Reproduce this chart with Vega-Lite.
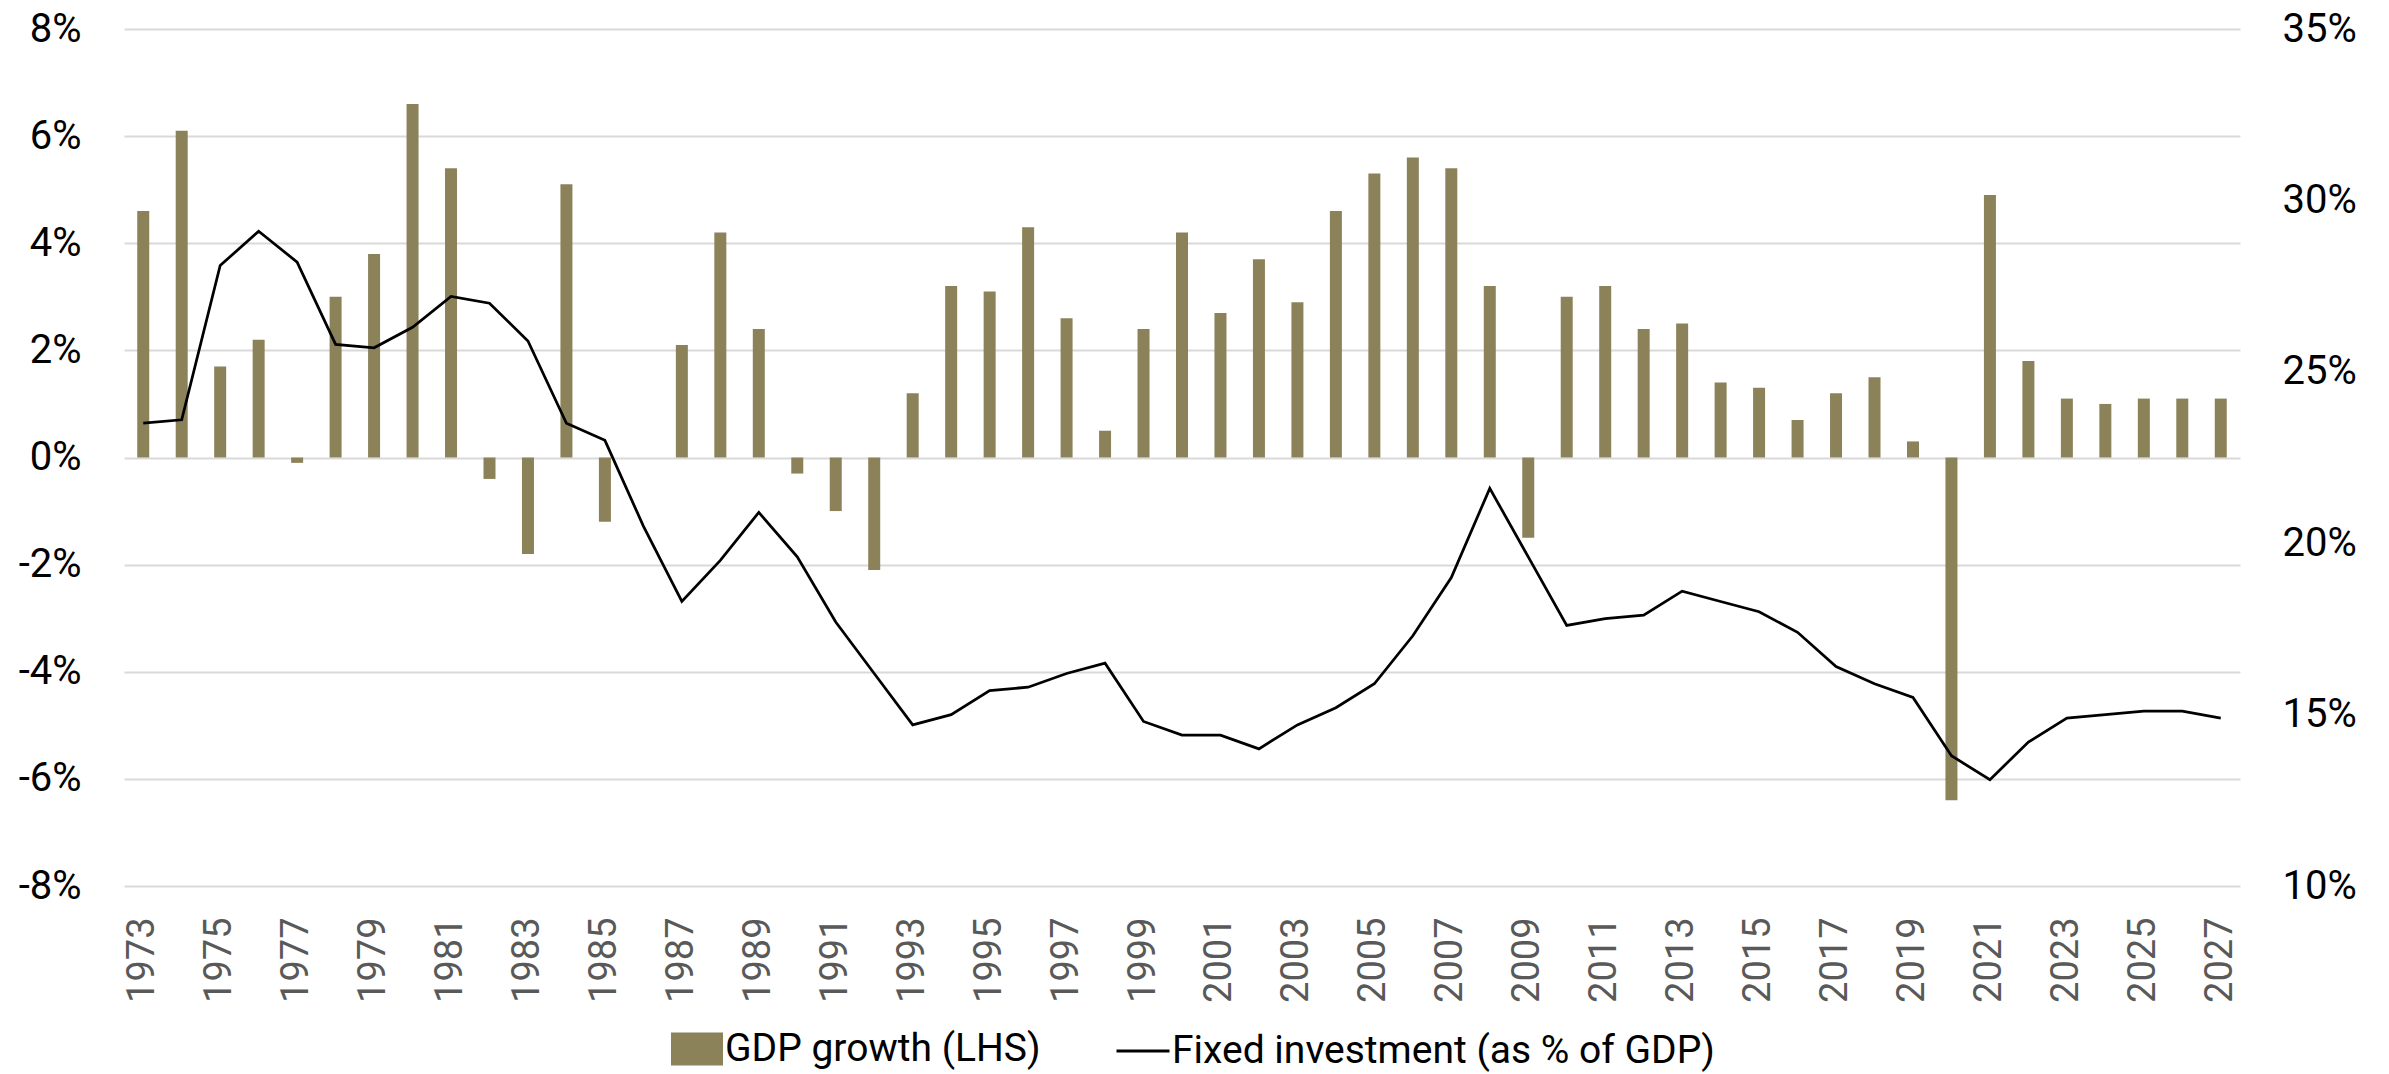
{
  "$schema": "https://vega.github.io/schema/vega-lite/v6.json",
  "width": 2116,
  "height": 857,
  "autosize": {"type": "none"},
  "padding": {"left": 124, "top": 29, "right": 149, "bottom": 188},
  "background": "white",
  "config": {
    "font": "Roboto, sans-serif",
    "view": {"stroke": null}
  },
  "data": {
    "values": [
      {"year": 1973, "gdp": 4.6, "inv": 23.5},
      {"year": 1974, "gdp": 6.1, "inv": 23.6},
      {"year": 1975, "gdp": 1.7, "inv": 28.1},
      {"year": 1976, "gdp": 2.2, "inv": 29.1},
      {"year": 1977, "gdp": -0.1, "inv": 28.2},
      {"year": 1978, "gdp": 3.0, "inv": 25.8},
      {"year": 1979, "gdp": 3.8, "inv": 25.7},
      {"year": 1980, "gdp": 6.6, "inv": 26.3},
      {"year": 1981, "gdp": 5.4, "inv": 27.2},
      {"year": 1982, "gdp": -0.4, "inv": 27.0},
      {"year": 1983, "gdp": -1.8, "inv": 25.9},
      {"year": 1984, "gdp": 5.1, "inv": 23.5},
      {"year": 1985, "gdp": -1.2, "inv": 23.0},
      {"year": 1986, "gdp": 0.0, "inv": 20.5},
      {"year": 1987, "gdp": 2.1, "inv": 18.3},
      {"year": 1988, "gdp": 4.2, "inv": 19.5},
      {"year": 1989, "gdp": 2.4, "inv": 20.9},
      {"year": 1990, "gdp": -0.3, "inv": 19.6},
      {"year": 1991, "gdp": -1.0, "inv": 17.7},
      {"year": 1992, "gdp": -2.1, "inv": 16.2},
      {"year": 1993, "gdp": 1.2, "inv": 14.7},
      {"year": 1994, "gdp": 3.2, "inv": 15.0},
      {"year": 1995, "gdp": 3.1, "inv": 15.7},
      {"year": 1996, "gdp": 4.3, "inv": 15.8},
      {"year": 1997, "gdp": 2.6, "inv": 16.2},
      {"year": 1998, "gdp": 0.5, "inv": 16.5},
      {"year": 1999, "gdp": 2.4, "inv": 14.8},
      {"year": 2000, "gdp": 4.2, "inv": 14.4},
      {"year": 2001, "gdp": 2.7, "inv": 14.4},
      {"year": 2002, "gdp": 3.7, "inv": 14.0},
      {"year": 2003, "gdp": 2.9, "inv": 14.7},
      {"year": 2004, "gdp": 4.6, "inv": 15.2},
      {"year": 2005, "gdp": 5.3, "inv": 15.9},
      {"year": 2006, "gdp": 5.6, "inv": 17.3},
      {"year": 2007, "gdp": 5.4, "inv": 19.0},
      {"year": 2008, "gdp": 3.2, "inv": 21.6},
      {"year": 2009, "gdp": -1.5, "inv": 19.6},
      {"year": 2010, "gdp": 3.0, "inv": 17.6},
      {"year": 2011, "gdp": 3.2, "inv": 17.8},
      {"year": 2012, "gdp": 2.4, "inv": 17.9},
      {"year": 2013, "gdp": 2.5, "inv": 18.6},
      {"year": 2014, "gdp": 1.4, "inv": 18.3},
      {"year": 2015, "gdp": 1.3, "inv": 18.0},
      {"year": 2016, "gdp": 0.7, "inv": 17.4},
      {"year": 2017, "gdp": 1.2, "inv": 16.4},
      {"year": 2018, "gdp": 1.5, "inv": 15.9},
      {"year": 2019, "gdp": 0.3, "inv": 15.5},
      {"year": 2020, "gdp": -6.4, "inv": 13.8},
      {"year": 2021, "gdp": 4.9, "inv": 13.1},
      {"year": 2022, "gdp": 1.8, "inv": 14.2},
      {"year": 2023, "gdp": 1.1, "inv": 14.9},
      {"year": 2024, "gdp": 1.0, "inv": 15.0},
      {"year": 2025, "gdp": 1.1, "inv": 15.1},
      {"year": 2026, "gdp": 1.1, "inv": 15.1},
      {"year": 2027, "gdp": 1.1, "inv": 14.9}
    ]
  },
  "encoding": {
    "x": {
      "field": "year",
      "type": "ordinal",
      "scale": {"paddingInner": 0.688, "paddingOuter": 0.344},
      "axis": {
        "title": null,
        "domain": false,
        "ticks": false,
        "grid": false,
        "labelAngle": 270,
        "labelAlign": "right",
        "labelBaseline": "middle",
        "labelPadding": 31,
        "labelFontSize": 38,
        "labelColor": "#595959",
        "labelExpr": "datum.value % 2 == 1 ? datum.label : ''",
        "labelOverlap": false
      }
    }
  },
  "layer": [
    {
      "mark": {"type": "bar", "color": "#8C825A"},
      "encoding": {
        "y": {
          "field": "gdp",
          "type": "quantitative",
          "scale": {"domain": [-8, 8], "nice": false, "zero": false},
          "axis": {
            "title": null,
            "orient": "left",
            "values": [-8, -6, -4, -2, 0, 2, 4, 6, 8],
            "labelExpr": "datum.value + '%'",
            "domain": false,
            "ticks": false,
            "labelPadding": 43,
            "labelFontSize": 40,
            "labelColor": "#000000",
            "grid": true,
            "gridColor": "#D9D9D9",
            "gridWidth": 2
          }
        },
        "fill": {
          "datum": "GDP growth (LHS)",
          "type": "nominal",
          "scale": {"range": ["#8C825A"]},
          "legend": {
            "title": null,
            "orient": "none",
            "legendX": 547,
            "legendY": 994,
            "symbolType": "M-1,-0.635L1,-0.635L1,0.635L-1,0.635Z",
            "symbolSize": 2704,
            "symbolStrokeWidth": 0,
            "labelFontSize": 39,
            "labelColor": "#000000",
            "labelOffset": 2,
            "labelLimit": 0
          }
        }
      }
    },
    {
      "mark": {"type": "line", "color": "#000000", "strokeWidth": 2.75},
      "encoding": {
        "y": {
          "field": "inv",
          "type": "quantitative",
          "scale": {"domain": [10, 35], "nice": false, "zero": false},
          "axis": {
            "title": null,
            "orient": "right",
            "values": [10, 15, 20, 25, 30, 35],
            "labelExpr": "datum.value + '%'",
            "domain": false,
            "ticks": false,
            "labelPadding": 42,
            "labelFontSize": 40,
            "labelColor": "#000000",
            "grid": false
          }
        },
        "stroke": {
          "datum": "Fixed investment (as % of GDP)",
          "type": "nominal",
          "scale": {"range": ["#000000"]},
          "legend": {
            "title": null,
            "orient": "none",
            "legendX": 991,
            "legendY": 994,
            "symbolType": "stroke",
            "symbolSize": 2809,
            "symbolStrokeWidth": 3,
            "labelFontSize": 39,
            "labelColor": "#000000",
            "labelOffset": 1,
            "labelLimit": 0
          }
        }
      }
    }
  ],
  "resolve": {"scale": {"y": "independent"}}
}
